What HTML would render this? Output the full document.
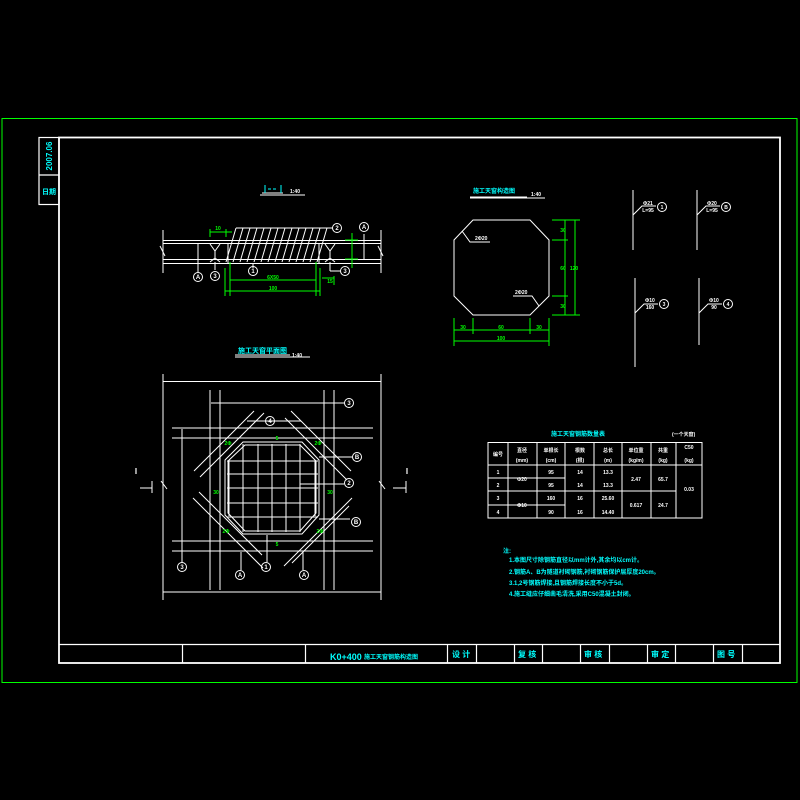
<!DOCTYPE html>
<html><head><meta charset="utf-8"><style>
html,body{margin:0;padding:0;background:#000;}
svg{display:block}
text{font-family:"Liberation Sans","Noto Sans CJK SC",sans-serif;font-weight:bold;}
</style></head><body>
<svg width="800" height="800" viewBox="0 0 800 800" xmlns="http://www.w3.org/2000/svg">
<rect width="800" height="800" fill="#000"/>
<rect x="2" y="118.5" width="795" height="564" fill="none" stroke="#00ff00" stroke-width="1"/>
<g stroke="#fff" fill="none" stroke-width="1.2">
<rect x="59" y="137.5" width="721" height="525.5" stroke-width="1.8"/>
<rect x="39" y="137.5" width="20" height="67"/>
<line x1="39" y1="175" x2="59" y2="175"/>
<line x1="59" y1="644.5" x2="780" y2="644.5"/>
<g>
<line x1="182.5" y1="644" x2="182.5" y2="663"/><line x1="305.5" y1="644" x2="305.5" y2="663"/>
<line x1="447.5" y1="644" x2="447.5" y2="663"/><line x1="476.5" y1="644" x2="476.5" y2="663"/>
<line x1="514.5" y1="644" x2="514.5" y2="663"/><line x1="542.5" y1="644" x2="542.5" y2="663"/>
<line x1="580.5" y1="644" x2="580.5" y2="663"/><line x1="609.5" y1="644" x2="609.5" y2="663"/>
<line x1="647.5" y1="644" x2="647.5" y2="663"/><line x1="675.5" y1="644" x2="675.5" y2="663"/>
<line x1="713.5" y1="644" x2="713.5" y2="663"/><line x1="742.5" y1="644" x2="742.5" y2="663"/>
</g>
</g>
<g fill="#00ffff" font-size="8">
<text x="52" y="156" transform="rotate(-90 52 156)" text-anchor="middle" font-size="8">2007.06</text>
<text x="49" y="194" text-anchor="middle" font-size="7">日期</text>
<text x="330" y="660" font-size="9">K0+400</text>
<text x="364" y="659" font-size="6">施工天窗钢筋构造图</text>
<text x="452" y="657" font-size="8">设 计</text>
<text x="518" y="657" font-size="8">复 核</text>
<text x="584" y="657" font-size="8">审 核</text>
<text x="651" y="657" font-size="8">审 定</text>
<text x="717" y="657" font-size="8">图 号</text>
</g>

<g stroke="#fff" fill="none" stroke-width="1">
<line x1="163" y1="240.5" x2="381" y2="240.5"/><line x1="163" y1="243.5" x2="381" y2="243.5"/>
<line x1="163" y1="259.5" x2="381" y2="259.5"/><line x1="163" y1="263.5" x2="381" y2="263.5"/>
<line x1="163" y1="230" x2="163" y2="273"/><line x1="381" y1="230" x2="381" y2="273"/>
<line x1="160" y1="246" x2="165" y2="256"/><line x1="378" y1="246" x2="383" y2="256"/>
<line x1="236" y1="228" x2="333" y2="228"/>
<line x1="228" y1="243" x2="228" y2="263"/><line x1="319" y1="243" x2="319" y2="263"/>
<path d="M236 228 L226 262 M243 228 L233 262 M250 228 L240 262 M257 228 L247 262 M264 228 L254 262 M271 228 L261 262 M278 228 L268 262 M285 228 L275 262 M292 228 L282 262 M299 228 L289 262 M306 228 L296 262 M313 228 L303 262 M320 228 L310 262 M327 228 L317 262"/>
<path d="M210 244 L215 251 L220 244 M215 251 V258 M210 262 L215 258 L220 262"/>
<path d="M325 244 L330 251 L335 244 M330 251 V258 M325 262 L330 258 L335 262"/>
<line x1="198" y1="243" x2="198" y2="272"/><line x1="215" y1="262" x2="215" y2="270"/>
<line x1="253" y1="263" x2="253" y2="268"/><line x1="364" y1="234" x2="364" y2="259"/>
<line x1="330" y1="262" x2="330" y2="271" /><line x1="330" y1="271" x2="340" y2="271"/>
<circle cx="198" cy="277" r="4.5"/><circle cx="215" cy="276" r="4.5"/><circle cx="253" cy="271" r="4.5"/>
<circle cx="337" cy="228" r="4.5"/><circle cx="364" cy="227" r="4.5"/><circle cx="345" cy="271" r="4.5"/>
<line x1="262" y1="193" x2="283" y2="193"/><line x1="260" y1="195" x2="305" y2="195"/>
</g>
<g fill="#fff" font-size="6" text-anchor="middle">
<text x="198" y="279">A</text><text x="215" y="278">3</text><text x="253" y="273">1</text>
<text x="337" y="230">2</text><text x="364" y="229">A</text><text x="345" y="273">3</text>
<text x="295" y="193" font-size="5">1:40</text>
</g>
<g stroke="#00ffff" stroke-width="1"><line x1="265" y1="185" x2="265" y2="193"/><line x1="281" y1="185" x2="281" y2="193"/><line x1="268" y1="189" x2="278" y2="189" stroke-dasharray="3 2"/></g>
<g stroke="#00ff00" fill="none" stroke-width="1">
<line x1="230" y1="262" x2="230" y2="296"/><line x1="316" y1="262" x2="316" y2="296"/>
<line x1="230" y1="280" x2="316" y2="280"/>
<line x1="225" y1="268" x2="225" y2="296"/><line x1="320" y1="268" x2="320" y2="296"/>
<line x1="225" y1="291" x2="320" y2="291"/>
<line x1="322" y1="278" x2="334" y2="278"/><line x1="334" y1="276" x2="334" y2="285"/>
<line x1="210" y1="229" x2="210" y2="237"/><line x1="226" y1="229" x2="226" y2="237"/><line x1="210" y1="232" x2="232" y2="232"/>
<line x1="352" y1="233" x2="352" y2="268"/><line x1="345" y1="240" x2="358" y2="240"/><line x1="345" y1="259" x2="358" y2="259"/>
</g>
<g fill="#00ff00" font-size="5" text-anchor="middle">
<text x="273" y="279">6X50</text><text x="273" y="290">100</text><text x="218" y="230">10</text><text x="330" y="283">15</text>
</g>

<g fill="#00ffff" font-size="7"><text x="238" y="353">施工天窗平面图</text></g>
<g stroke="#fff" fill="none" stroke-width="1">
<line x1="235" y1="355" x2="290" y2="355"/><line x1="235" y1="357" x2="310" y2="357"/>
<line x1="163" y1="381.5" x2="381" y2="381.5"/><line x1="163" y1="592" x2="381" y2="592"/>
<line x1="163" y1="374" x2="163" y2="600"/><line x1="381" y1="374" x2="381" y2="600"/>
<line x1="161" y1="481" x2="167" y2="489"/><line x1="379" y1="481" x2="385" y2="489"/>
<line x1="210" y1="390" x2="210" y2="590"/><line x1="220" y1="390" x2="220" y2="590"/>
<line x1="324" y1="390" x2="324" y2="590"/><line x1="334" y1="390" x2="334" y2="590"/>
<line x1="172" y1="428" x2="373" y2="428"/><line x1="172" y1="438" x2="373" y2="438"/>
<line x1="172" y1="541" x2="373" y2="541"/><line x1="172" y1="551" x2="373" y2="551"/>
<line x1="211" y1="403" x2="345" y2="403"/><line x1="247" y1="421" x2="301" y2="421"/>
<line x1="182" y1="429" x2="182" y2="563"/>
<line x1="194" y1="471" x2="254" y2="411"/><line x1="200" y1="477" x2="264" y2="413"/>
<line x1="291" y1="411" x2="351" y2="471"/><line x1="285" y1="418" x2="347" y2="480"/>
<line x1="193" y1="498" x2="263" y2="568"/><line x1="199" y1="492" x2="262" y2="555"/>
<line x1="352" y1="498" x2="284" y2="566"/><line x1="349" y1="506" x2="292" y2="563"/>
<path d="M243 442 H302 L319 460 V515 L302 534 H243 L225 515 V460 Z"/>
<path d="M245 445 H300 L316 461 V513 L300 531 H245 L228 513 V461 Z"/>
<path d="M229 460 V516 M243 444 V532 M258 444 V532 M272 444 V532 M286 444 V532 M300 444 V532 M315 460 V516"/>
<path d="M227 461 H318 M227 474 H318 M227 488 H318 M227 503 H318 M227 517 H318"/>
<line x1="319" y1="457" x2="352" y2="457"/><line x1="319" y1="519" x2="350" y2="519"/>
<line x1="300" y1="484" x2="344" y2="484"/>
<line x1="241" y1="552" x2="241" y2="570"/><line x1="267" y1="535" x2="267" y2="562"/><line x1="303" y1="552" x2="303" y2="570"/>
<circle cx="349" cy="403" r="4.5"/><circle cx="270" cy="421" r="4.5"/><circle cx="357" cy="457" r="4.5"/>
<circle cx="349" cy="483" r="4.5"/><circle cx="356" cy="522" r="4.5"/><circle cx="182" cy="567" r="4.5"/>
<circle cx="266" cy="567" r="4.5"/><circle cx="240" cy="575" r="4.5"/><circle cx="304" cy="575" r="4.5"/>
<line x1="140" y1="488" x2="152" y2="488"/><line x1="152" y1="481" x2="152" y2="493"/>
<line x1="393" y1="488" x2="406" y2="488"/><line x1="406" y1="481" x2="406" y2="493"/>
</g>
<g fill="#fff" font-size="6" text-anchor="middle">
<text x="349" y="405">3</text><text x="270" y="423">4</text><text x="357" y="459">B</text>
<text x="349" y="485">2</text><text x="356" y="524">B</text><text x="182" y="569">3</text>
<text x="266" y="569">1</text><text x="240" y="577">A</text><text x="304" y="577">A</text>
<text x="136" y="474" font-size="8">I</text><text x="407" y="474" font-size="8">I</text>
<text x="297" y="357" font-size="5">1:40</text>
</g>
<g fill="#00ff00" font-size="5" text-anchor="middle">
<text x="228" y="445">2Φ</text><text x="318" y="445">2Φ</text><text x="226" y="533">2Φ</text><text x="320" y="533">2Φ</text>
<text x="216" y="494">30</text><text x="330" y="494">30</text><text x="277" y="440">5</text><text x="277" y="546">5</text>
</g>

<g fill="#00ffff" font-size="6"><text x="473" y="193">施工天窗构造图</text></g>
<g stroke="#fff" fill="none" stroke-width="1">
<line x1="470" y1="197" x2="527" y2="197"/><line x1="470" y1="198" x2="545" y2="198"/>
<path d="M473 220 H530 L549 240 V296 L530 315 H473 L454 296 V240 Z"/>
<path d="M462 231 L470 242 H490 M513 296 H532 L539 306"/>
</g>
<g fill="#fff" font-size="5"><text x="475" y="240">2Φ20</text><text x="515" y="294">2Φ20</text><text x="531" y="196">1:40</text></g>
<g stroke="#00ff00" fill="none" stroke-width="1">
<line x1="552" y1="220" x2="580" y2="220"/><line x1="552" y1="240" x2="568" y2="240"/>
<line x1="552" y1="296" x2="568" y2="296"/><line x1="552" y1="315" x2="580" y2="315"/>
<line x1="565" y1="220" x2="565" y2="315"/><line x1="575" y1="220" x2="575" y2="315"/>
<line x1="454" y1="318" x2="454" y2="346"/><line x1="473" y1="318" x2="473" y2="334"/>
<line x1="530" y1="318" x2="530" y2="334"/><line x1="549" y1="318" x2="549" y2="346"/>
<line x1="454" y1="330" x2="549" y2="330"/><line x1="454" y1="341" x2="549" y2="341"/>
</g>
<g fill="#00ff00" font-size="5" text-anchor="middle">
<text x="463" y="329">30</text><text x="501" y="329">60</text><text x="539" y="329">30</text><text x="501" y="340">100</text>
<text x="563" y="232">30</text><text x="563" y="270">60</text><text x="563" y="308">30</text><text x="574" y="270">120</text>
</g>

<g stroke="#fff" fill="none" stroke-width="1">
<line x1="633" y1="190" x2="633" y2="250"/><line x1="697" y1="190" x2="697" y2="250"/>
<line x1="635" y1="278" x2="635" y2="367"/><line x1="699" y1="278" x2="699" y2="345"/>
<path d="M633 215 L642 206 H656"/><path d="M697 215 L706 206 H720"/>
<path d="M635 313 L644 304 H658"/><path d="M699 313 L708 304 H722"/>
<circle cx="662" cy="207" r="4.5"/><circle cx="726" cy="207" r="4.5"/>
<circle cx="664" cy="304" r="4.5"/><circle cx="728" cy="304" r="4.5"/>
</g>
<g fill="#fff" font-size="5" text-anchor="middle">
<text x="662" y="209">1</text><text x="726" y="209">B</text><text x="664" y="306">3</text><text x="728" y="306">4</text>
<text x="648" y="205">Φ21</text><text x="648" y="212">L=95</text><text x="712" y="205">Φ20</text><text x="712" y="212">L=95</text>
<text x="650" y="302">Φ10</text><text x="650" y="309">160</text><text x="714" y="302">Φ10</text><text x="714" y="309">90</text>
</g>

<g fill="#00ffff" font-size="6"><text x="551" y="436">施工天窗钢筋数量表</text></g>
<g fill="#fff" font-size="5"><text x="672" y="436">(一个天窗)</text></g>
<g stroke="#fff" fill="none" stroke-width="1">
<rect x="488" y="442.5" width="214" height="75.5"/>
<line x1="488" y1="465" x2="702" y2="465"/>
<line x1="488" y1="478" x2="565" y2="478"/><line x1="488" y1="491" x2="676" y2="491"/><line x1="488" y1="505" x2="565" y2="505"/>
<line x1="508" y1="442" x2="508" y2="518"/><line x1="537" y1="442" x2="537" y2="518"/><line x1="565" y1="442" x2="565" y2="518"/>
<line x1="594" y1="442" x2="594" y2="518"/><line x1="622" y1="442" x2="622" y2="518"/><line x1="651" y1="442" x2="651" y2="518"/><line x1="676" y1="442" x2="676" y2="518"/>
</g>
<g fill="#fff" font-size="5" text-anchor="middle">
<text x="498" y="456">编号</text><text x="522" y="452">直径</text><text x="522" y="462">(mm)</text>
<text x="551" y="452">单根长</text><text x="551" y="462">(cm)</text><text x="580" y="452">根数</text><text x="580" y="462">(根)</text>
<text x="608" y="452">总长</text><text x="608" y="462">(m)</text><text x="636" y="452">单位重</text><text x="636" y="462">(kg/m)</text>
<text x="663" y="452">共重</text><text x="663" y="462">(kg)</text><text x="689" y="449">C50</text><text x="689" y="462">(kg)</text>
<text x="498" y="474">1</text><text x="498" y="487">2</text><text x="498" y="500">3</text><text x="498" y="514">4</text>
<text x="522" y="481">Φ20</text><text x="522" y="507">Φ10</text>
<text x="551" y="474">95</text><text x="551" y="487">95</text><text x="551" y="500">160</text><text x="551" y="514">90</text>
<text x="580" y="474">14</text><text x="580" y="487">14</text><text x="580" y="500">16</text><text x="580" y="514">16</text>
<text x="608" y="474">13.3</text><text x="608" y="487">13.3</text><text x="608" y="500">25.60</text><text x="608" y="514">14.40</text>
<text x="636" y="481">2.47</text><text x="663" y="481">65.7</text><text x="636" y="507">0.617</text><text x="663" y="507">24.7</text>
<text x="689" y="491">0.03</text>
</g>
<g fill="#00ffff" font-size="6">
<text x="503" y="553">注:</text>
<text x="509" y="562">1.本图尺寸除钢筋直径以mm计外,其余均以cm计。</text>
<text x="509" y="574">2.钢筋A、B为隧道衬砌钢筋,衬砌钢筋保护层厚度20cm。</text>
<text x="509" y="585">3.1,2号钢筋焊接,且钢筋焊接长度不小于5d。</text>
<text x="509" y="596">4.施工缝应仔细凿毛清洗,采用C50混凝土封闭。</text>
</g>
</svg>
</body></html>
